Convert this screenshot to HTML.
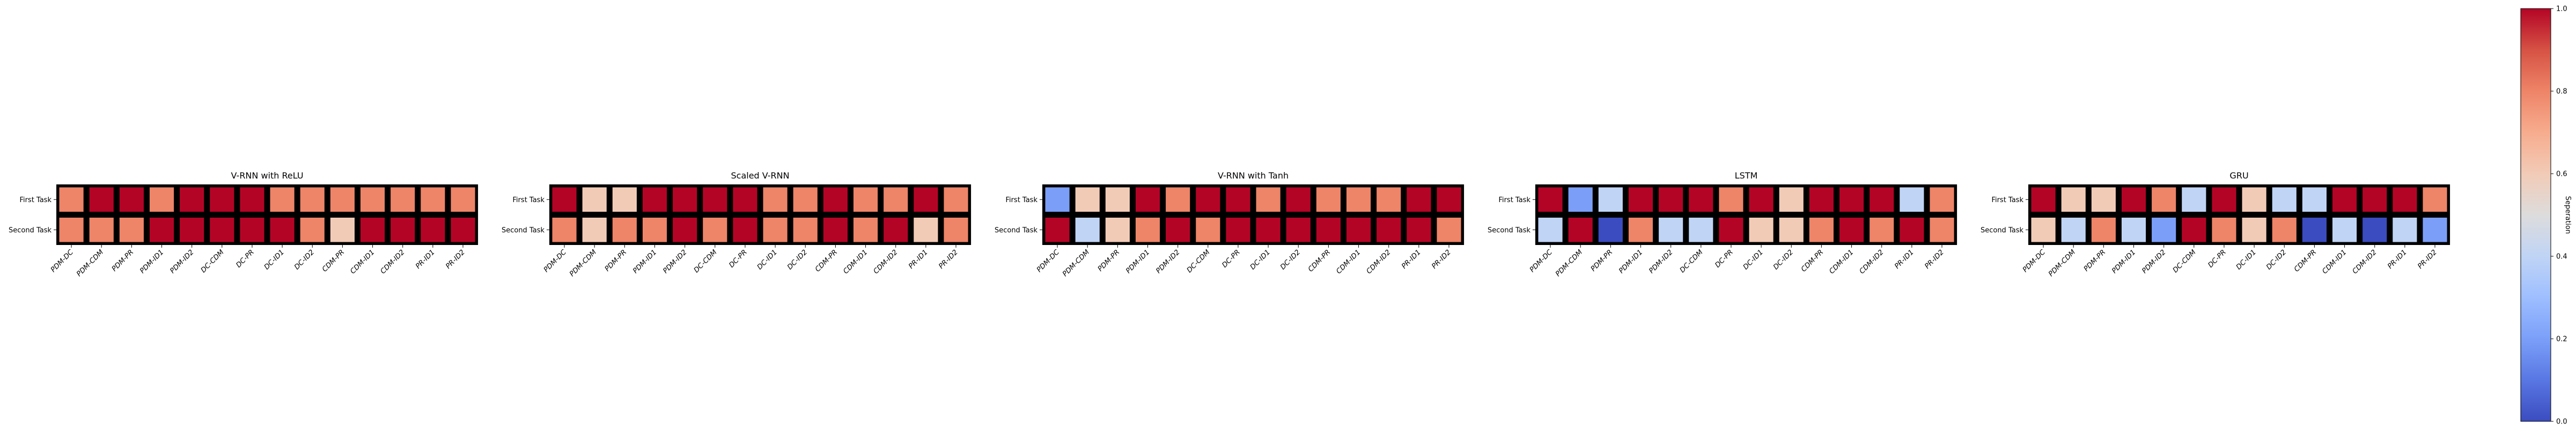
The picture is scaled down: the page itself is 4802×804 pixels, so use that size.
<!DOCTYPE html>
<html><head><meta charset="utf-8"><style>
html,body{margin:0;padding:0;background:#fff;}
svg{display:block;}
text{font-family:"DejaVu Sans","Liberation Sans",sans-serif;fill:#000;}
</style></head><body>
<svg id="fig" width="4802" height="804" viewBox="0 0 4802 804" xmlns="http://www.w3.org/2000/svg">
<defs>
<linearGradient id="cw" x1="0" y1="1" x2="0" y2="0">
<stop offset="0" stop-color="#3b4cc0"/><stop offset="0.1" stop-color="#5977e3"/><stop offset="0.2" stop-color="#7b9ff9"/><stop offset="0.3" stop-color="#9ebeff"/><stop offset="0.4" stop-color="#c0d4f5"/><stop offset="0.5" stop-color="#dddcdc"/><stop offset="0.6" stop-color="#f2cbb7"/><stop offset="0.7" stop-color="#f7ac8e"/><stop offset="0.8" stop-color="#ee8468"/><stop offset="0.9" stop-color="#d65244"/><stop offset="1" stop-color="#b40426"/>
</linearGradient>
</defs>
</svg>
<script>
const titles = ["V-RNN with ReLU","Scaled V-RNN","V-RNN with Tanh","LSTM","GRU"];
const categories = ["PDM-DC","PDM-CDM","PDM-PR","PDM-ID1","PDM-ID2","DC-CDM","DC-PR","DC-ID1","DC-ID2","CDM-PR","CDM-ID1","CDM-ID2","PR-ID1","PR-ID2"];
const rowLabels = ["First Task","Second Task"];
const reluFirst  = [.8,1,1,.8,1,1,1,.8,.8,.8,.8,.8,.8,.8];
const reluSecond = [.8,.8,.8,1,1,1,1,1,.8,.6,1,1,1,1];
const scaledFirst  = [1,.6,.6,1,1,1,1,.8,.8,1,.8,.8,1,.8];
const scaledSecond = [.8,.6,.8,.8,1,.8,1,.8,.8,1,.8,1,.6,.8];
const tanhFirst  = [.2,.6,.6,1,.8,1,1,.8,1,.8,.8,.8,1,1];
const tanhSecond = [1,.4,.6,.8,1,.8,1,1,1,1,1,1,1,.8];
const lstmFirst  = [1,.2,.4,1,1,1,.8,1,.6,1,1,1,.4,.8];
const lstmSecond = [.4,1,0,.8,.4,.4,1,.6,.6,.8,1,.8,1,.8];
const gruFirst  = [1,.6,.6,1,.8,.4,1,.6,.4,.4,1,1,1,.8];
const gruSecond = [.6,.4,.8,.4,.2,1,.8,.6,.8,0,.4,0,.4,.2];
const panelData = [[reluFirst,reluSecond],[scaledFirst,scaledSecond],[tanhFirst,tanhSecond],[lstmFirst,lstmSecond],[gruFirst,gruSecond]];
const cbTicks = [0,0.2,0.4,0.6,0.8,1.0];

const NS="http://www.w3.org/2000/svg";
const svg=document.getElementById('fig');
function mk(tag,attrs,parent){const e=document.createElementNS(NS,tag);for(const k in attrs)e.setAttribute(k,attrs[k]);(parent||svg).appendChild(e);return e;}
const stops=[[0,[59,76,192]],[0.1,[89,119,227]],[0.2,[123,159,249]],[0.3,[158,190,255]],[0.4,[192,212,245]],[0.5,[221,220,220]],[0.6,[242,203,183]],[0.7,[247,172,142]],[0.8,[238,132,104]],[0.9,[214,82,68]],[1,[180,4,38]]];
function cmap(v){v=Math.max(0,Math.min(1,v));for(let i=1;i<stops.length;i++){if(v<=stops[i][0]+1e-9){const a=stops[i-1],b=stops[i];const t=(v-a[0])/(b[0]-a[0]);const c=a[1].map((x,j)=>Math.round(x+(b[1][j]-x)*t));return `rgb(${c[0]},${c[1]},${c[2]})`;}}return 'rgb(180,4,38)';}

const panelLeft0=105, pitch=919, hmTop=344, cell=56.15, rowH=56.5, gap=5.5;
panelData.forEach((rows,p)=>{
  const x0=panelLeft0+p*pitch;
  const W=cell*categories.length, H=rowH*rows.length;
  const xs=i=>x0+i*cell, ys=r=>hmTop+r*rowH;
  const g=mk('g',{});
  
  
  const t=mk('text',{x:x0+W/2,y:hmTop-11,'text-anchor':'middle','font-size':'16'},g);
  t.textContent=titles[p];
  
  
  const bg=mk('rect',{x:x0,y:hmTop,width:W,height:H,fill:'#000'},g);
  
  
  rows.forEach((vals,r)=>{
    vals.forEach((v,i)=>{
      const c=mk('rect',{x:xs(i)+gap,y:ys(r)+gap,width:cell-2*gap,height:rowH-2*gap,fill:cmap(v)},g);
      
      
    });
    const cy=ys(r)+rowH/2;
    mk('line',{x1:x0-5,x2:x0,y1:cy,y2:cy,stroke:'#000','stroke-width':1},g);
    const yl=mk('text',{x:x0-9,y:cy+4.5,'text-anchor':'end','font-size':'13'},g);
    yl.textContent=rowLabels[r];
    
    
  });
  categories.forEach((c,i)=>{
    const cx=xs(i)+cell/2, by=hmTop+H;
    mk('line',{x1:cx,x2:cx,y1:by,y2:by+5,stroke:'#000','stroke-width':1},g);
    const xl=mk('text',{transform:`translate(${cx+4},${by+14}) rotate(-45)`,'text-anchor':'end','font-size':'13','font-style':'italic'},g);
    xl.textContent=c;
    
    
  });
});

// colorbar
const cbX=4699, cbW=56, cbTop=16, cbBot=786;
const cy=v=>cbBot-(v-0)/(1-0)*(cbBot-cbTop);
const cb=mk('rect',{x:cbX,y:cbTop,width:cbW,height:cbBot-cbTop,fill:'url(#cw)',stroke:'#000','stroke-width':1});


cbTicks.forEach(v=>{
  const y=cy(v);
  mk('line',{x1:cbX+cbW,x2:cbX+cbW+5,y1:y,y2:y,stroke:'#000','stroke-width':1});
  const tl=mk('text',{x:cbX+cbW+10,y:y+4.5,'font-size':'13'});
  tl.textContent=v.toFixed(1);
  
  
});
const cl=mk('text',{transform:`translate(4783,${(cbTop+cbBot)/2}) rotate(90)`,'text-anchor':'middle','font-size':'13'});
cl.textContent='Seperation';


</script>
</body></html>
